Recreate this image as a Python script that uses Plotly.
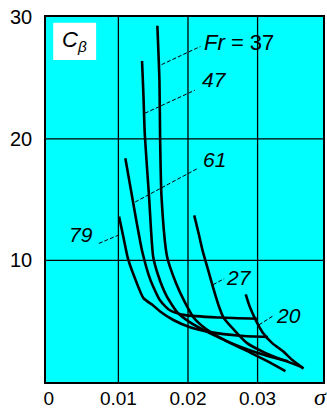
import plotly.graph_objects as go

# ---- data (sigma, C_beta) ----
fr_labels = ["79", "61", "47", "Fr = 37", "27", "20"]

sig_79 = [0.0101, 0.0108, 0.0114, 0.0126, 0.0136, 0.0150, 0.0160, 0.0179, 0.0203, 0.0232, 0.0275, 0.0315]
cb_79 = [13.6, 11.7, 10.1, 8.2, 6.9, 6.3, 5.8, 5.1, 4.5, 4.1, 3.8, 3.7]

sig_61 = [0.0110, 0.0118, 0.0127, 0.0134, 0.0146, 0.0160, 0.0174, 0.0196, 0.0246, 0.0299]
cb_61 = [18.4, 15.8, 12.9, 10.8, 8.4, 6.7, 5.9, 5.5, 5.3, 5.2]

sig_47 = [0.0134, 0.0136, 0.0138, 0.0144, 0.0150, 0.0157, 0.0169, 0.0185, 0.0203, 0.0232, 0.0275, 0.0311, 0.0344]
cb_47 = [26.4, 23.6, 20.3, 15.3, 10.3, 8.8, 7.1, 5.7, 4.9, 4.0, 2.9, 2.2, 1.7]

sig_37 = [0.0156, 0.0159, 0.0160, 0.0162, 0.0170, 0.0183, 0.0196, 0.0208, 0.0225, 0.0254, 0.0290, 0.0318, 0.0340]
cb_37 = [29.3, 24.8, 19.9, 15.2, 10.3, 8.1, 6.5, 5.3, 4.4, 3.4, 2.4, 1.6, 0.9]

sig_27 = [0.0209, 0.0215, 0.0221, 0.0229, 0.0237, 0.0244, 0.0251, 0.0266, 0.0285, 0.0311, 0.0337, 0.0365]
cb_27 = [13.7, 12.3, 10.8, 9.2, 7.6, 6.3, 5.3, 4.3, 3.2, 2.4, 1.8, 1.2]

sig_20 = [0.0283, 0.0288, 0.0294, 0.0299, 0.0307, 0.0321, 0.0337, 0.0350, 0.0366]
cb_20 = [7.2, 6.3, 5.5, 4.9, 4.1, 3.2, 2.5, 1.8, 1.1]

# leader lines: [sigma start, sigma end], [C start, C end]
lead_sig = [[0.0072, 0.0101], [0.0124, 0.0215], [0.0138, 0.0210], [0.0162, 0.0218], [0.0236, 0.0252], [0.0302, 0.0324]]
lead_cb = [[11.4, 12.1], [14.8, 17.6], [22.1, 24.0], [26.1, 27.6], [8.0, 8.5], [4.7, 5.5]]
# label anchor points
lab_sig = [0.0067, 0.0218, 0.0217, 0.0220, 0.0252, 0.0324]
lab_cb = [12.1, 18.3, 24.9, 27.9, 8.6, 5.5]
lab_anchor = ["right", "left", "left", "left", "left", "left"]

x_ticks = [0, 0.01, 0.02, 0.03]
x_ticktext = ["0", "0.01", "0.02", "0.03"]
y_ticks = [10, 20, 30]
x_grid = [0.01, 0.02, 0.03]
y_grid = [10, 20]

curves = [(sig_79, cb_79), (sig_61, cb_61), (sig_47, cb_47), (sig_37, cb_37), (sig_27, cb_27), (sig_20, cb_20)]

fig = go.Figure()
for xs, ys in curves:
    fig.add_trace(go.Scatter(x=xs, y=ys, mode="lines",
                             line=dict(color="black", width=2.6, shape="spline", smoothing=0.6),
                             showlegend=False, hoverinfo="skip"))
for xs, ys in zip(lead_sig, lead_cb):
    fig.add_trace(go.Scatter(x=xs, y=ys, mode="lines",
                             line=dict(color="black", width=1, dash="4px,2px"),
                             showlegend=False, hoverinfo="skip"))

for t, xv, yv, anc in zip(fr_labels, lab_sig, lab_cb, lab_anchor):
    txt = "<i>Fr</i> = 37" if t.startswith("Fr") else "<i>" + t + "</i>"
    fig.add_annotation(x=xv, y=yv, text=txt, showarrow=False, xanchor=anc, yanchor="middle",
                       font=dict(family="Liberation Sans, Arial", size=22 if t.startswith("Fr") else 21,
                                 color="black"))

for g in x_grid:
    fig.add_shape(type="line", x0=g, x1=g, y0=0, y1=1, xref="x", yref="paper",
                  line=dict(color="black", width=1.3), layer="below")
for g in y_grid:
    fig.add_shape(type="line", x0=0, x1=1, y0=g, y1=g, xref="paper", yref="y",
                  line=dict(color="black", width=1.3), layer="below")

# C_beta label box
fig.add_shape(type="rect", xref="paper", yref="paper", x0=0.026, x1=0.181, y0=0.882, y1=0.984,
              fillcolor="white", line=dict(width=0), layer="below")
fig.add_annotation(xref="paper", yref="paper", x=0.104, y=0.933, text="<i>C</i><sub><i>β</i></sub>",
                   showarrow=False, xanchor="center", yanchor="middle",
                   font=dict(family="Liberation Sans, Arial", size=22, color="black"))
fig.add_annotation(xref="paper", yref="paper", x=0.99, y=-0.042, text="<i>σ</i>", showarrow=False,
                   xanchor="center", yanchor="middle",
                   font=dict(family="Liberation Serif, Times New Roman", size=24, color="black"))

fig.update_layout(
    width=327, height=409,
    margin=dict(l=46, r=4, t=17, b=27, autoexpand=False),
    paper_bgcolor="white", plot_bgcolor="#00FFFF",
    font=dict(family="Liberation Sans, Arial", size=20, color="black"),
    xaxis=dict(range=[-0.0004, 0.0394], tickvals=x_ticks, ticktext=x_ticktext, showgrid=False,
               zeroline=False, showline=True, linecolor="black", linewidth=1.5, mirror=True,
               ticks="", tickfont=dict(size=19), automargin=False, ticklabelstandoff=-2,
               ticklabeloverflow="allow"),
    yaxis=dict(range=[0, 30.02], tickvals=y_ticks, showgrid=False, zeroline=False,
               showline=True, linecolor="black", linewidth=1.5, mirror=True,
               ticks="", tickfont=dict(size=20), ticklabelstandoff=8, automargin=False,
               ticklabeloverflow="allow"),
)

# remove the default 8px page margin so the 327x409 figure fills the window exactly
fig.write_html("out.html", config={"displayModeBar": False},
               post_script="document.body.style.margin='0';")
